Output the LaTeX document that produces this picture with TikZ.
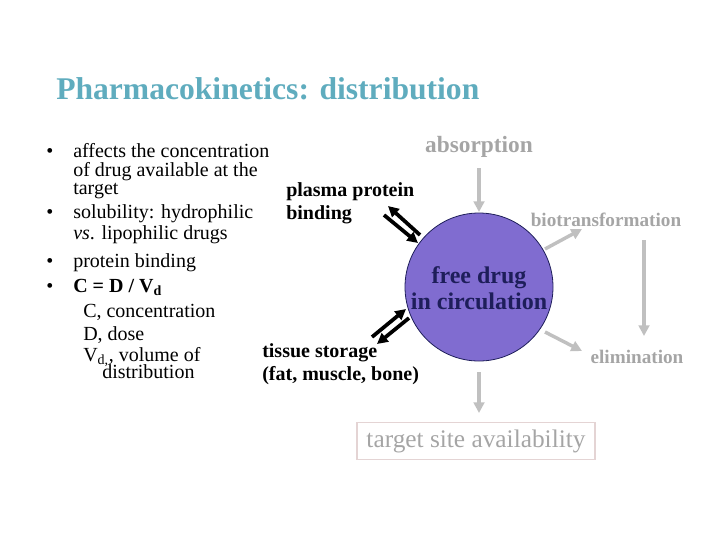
\documentclass[tikz,border=0pt]{standalone}
\usepackage{fontspec}
\setmainfont{Liberation Serif}
\usetikzlibrary{arrows.meta}
\definecolor{titlec}{RGB}{95,172,190}
\definecolor{purp}{RGB}{128,108,208}
\definecolor{navy}{RGB}{30,30,90}
\definecolor{greyarrow}{RGB}{192,192,192}
\definecolor{greytext}{RGB}{165,165,165}
\definecolor{boxc}{RGB}{228,212,212}
\tikzset{
  txt/.style={anchor=base west,inner sep=0pt,font=\fontsize{15}{18}\selectfont},
  bul/.style={anchor=base,inner sep=0pt,font=\fontsize{15}{18}\selectfont},
  lbl/.style={anchor=base west,inner sep=0pt,font=\fontsize{15}{18}\selectfont\bfseries},
  grey/.style={inner sep=0pt,text=greytext,font=\fontsize{14.4}{16}\selectfont\bfseries},
  garrow/.style={draw=greyarrow,line width=2.6pt,-{Triangle[length=8pt,width=8pt]}},
  barrow/.style={draw=black,line width=2.8pt,-{Triangle[length=8pt,width=8pt]}},
}
\begin{document}
\begin{tikzpicture}[x=0.75pt,y=-0.75pt]
\useasboundingbox (0,0) rectangle (720,540);
% title
\node[anchor=base west,inner sep=0pt,text=titlec,font=\fontsize{23.7}{28}\selectfont\bfseries] (title) at (56,99) {Pharmacokinetics: distribution};
% bullets
\node[bul] (b1) at (50,157) {\textbullet};
\node[txt] (t1) at (73,157) {affects the concentration};
\node[txt] (t2) at (73,176) {of drug available at the};
\node[txt] (t3) at (73,194) {target};
\node[bul] (b2) at (50,218) {\textbullet};
\node[txt] (t4) at (73,218) {solubility: hydrophilic};
\node[txt] (t5) at (73,239) {\textit{vs}. lipophilic drugs};
\node[bul] (b3) at (50,267) {\textbullet};
\node[txt] (t6) at (73,267) {protein binding};
\node[bul] (b4) at (50,292) {\textbullet};
\node[txt] (t7) at (73,292) {\textbf{C = D / V\textsubscript{d}}};
\node[txt] (t8) at (83,317) {C, concentration};
\node[txt] (t9) at (83,340) {D, dose};
\node[txt] (t10) at (83,361) {V\textsubscript{d,}, volume of};
\node[txt] (t11) at (102,378) {distribution};
% circle
\node[circle,draw=navy,fill=purp,line width=0.6pt,minimum size=111pt,inner sep=0pt] (free) at (479,287) {};
\node[anchor=base,inner sep=0pt,text=navy,font=\fontsize{18}{20}\selectfont\bfseries] (f1) at (479,283) {free drug};
\node[anchor=base,inner sep=0pt,text=navy,font=\fontsize{18}{20}\selectfont\bfseries] (f2) at (479,309) {in circulation};
% grey labels
\node[grey,anchor=base,font=\fontsize{17.5}{20}\selectfont\bfseries] (abs) at (479,152) {absorption};
\node[grey,anchor=base] (bio) at (606,226) {biotransformation};
\node[grey,anchor=base] (elim) at (637,363) {elimination};
\node[draw=boxc,line width=0.8pt,text=greytext,font=\fontsize{19}{22}\selectfont,minimum width=178.5pt,minimum height=27.5pt,inner sep=0pt] (target) at (476,441) {target site availability};
% black labels
\node[lbl] (pp1) at (286,196) {plasma protein};
\node[lbl] (pp2) at (286,219) {binding};
\node[lbl] (ts1) at (262,357) {tissue storage};
\node[lbl] (ts2) at (262,380) {(fat, muscle, bone)};
% grey arrows
\coordinate (a1) at (479,168);
\coordinate (a2) at (479,212);
\draw[garrow] (a1) -- (a2);
\coordinate (c1) at (545,249);
\coordinate (c2) at (582,229);
\draw[garrow] (c1) -- (c2);
\coordinate (v1) at (644,240);
\coordinate (v2) at (644,336);
\draw[garrow] (v1) -- (v2);
\coordinate (e1) at (545,332);
\coordinate (e2) at (582,351);
\draw[garrow] (e1) -- (e2);
\coordinate (d1) at (479,372);
\coordinate (d2) at (479,413);
\draw[garrow] (d1) -- (d2);
% black arrows
\coordinate (p1a) at (420,235);
\coordinate (p1b) at (388,206);
\draw[barrow] (p1a) -- (p1b);
\coordinate (p2a) at (384,215);
\coordinate (p2b) at (418,243);
\draw[barrow] (p2a) -- (p2b);
\coordinate (s1a) at (372,337);
\coordinate (s1b) at (406,309);
\draw[barrow] (s1a) -- (s1b);
\coordinate (s2a) at (409,318);
\coordinate (s2b) at (377,344);
\draw[barrow] (s2a) -- (s2b);
\end{tikzpicture}
\end{document}
